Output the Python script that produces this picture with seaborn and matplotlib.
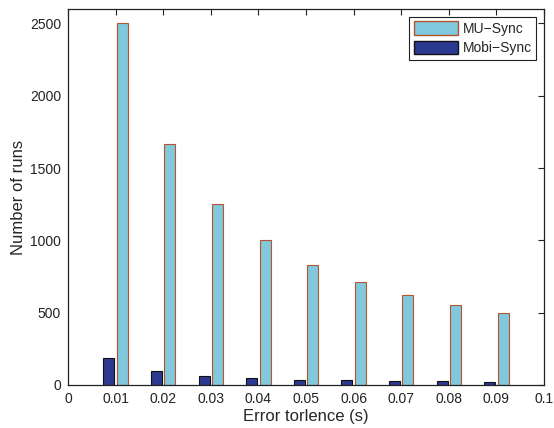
import numpy as np
import pandas as pd
import matplotlib
matplotlib.use("Agg")
import matplotlib.pyplot as plt
import seaborn as sns
from matplotlib.patches import Patch

# Error tolerance levels (s) and number of runs per method
tolerance = [0.01, 0.02, 0.03, 0.04, 0.05, 0.06, 0.07, 0.08, 0.09]
mu_sync = [2500, 1667, 1250, 1000, 833, 714, 625, 556, 500]
mobi_sync = [185, 95, 65, 48, 33, 35, 28, 28, 19]
methods = ["Mobi-Sync", "MU-Sync"]
x_ticks = [0, 0.01, 0.02, 0.03, 0.04, 0.05, 0.06, 0.07, 0.08, 0.09, 0.1]
x_tick_labels = ["0", "0.01", "0.02", "0.03", "0.04", "0.05", "0.06", "0.07", "0.08", "0.09", "0.1"]
y_ticks = [0, 500, 1000, 1500, 2000, 2500]

df = pd.DataFrame({
    "tol": tolerance * 2,
    "runs": mobi_sync + mu_sync,
    "method": ["Mobi-Sync"] * len(tolerance) + ["MU-Sync"] * len(tolerance),
})

sns.set_style("white")
plt.rcParams["font.family"] = ["Liberation Sans", "DejaVu Sans"]

fig = plt.figure(figsize=(5.54, 4.28), dpi=100)
ax = fig.add_axes([0.1227, 0.1005, 0.8593, 0.8785])

fills = {"Mobi-Sync": "#2b3990", "MU-Sync": "#80c8dc"}
edges = {"Mobi-Sync": "#111111", "MU-Sync": "#b4552e"}

sns.barplot(data=df, x="tol", y="runs", hue="method", hue_order=methods,
            palette=fills, native_scale=True, width=0.56, gap=0.18,
            saturation=1, ax=ax, legend=False)

for cont, m in zip(ax.containers, methods):
    for p in cont.patches:
        p.set_edgecolor(edges[m])
        p.set_linewidth(0.8)

ax.set_xlim(0, 0.1)
ax.set_ylim(0, 2600)
ax.set_xticks(x_ticks)
ax.set_xticklabels(x_tick_labels)
ax.set_yticks(y_ticks)
ax.tick_params(direction="in", top=True, right=True, length=4, width=0.8,
               labelsize=10, colors="#222222", pad=5)
for s in ax.spines.values():
    s.set_visible(True)
    s.set_color("#222222")
    s.set_linewidth(0.9)

ax.set_xlabel("Error torlence (s)", fontsize=12, labelpad=2)
ax.set_ylabel("Number of runs", fontsize=12, labelpad=3)

handles = [Patch(facecolor=fills["MU-Sync"], edgecolor=edges["MU-Sync"], label="MU\u2212Sync"),
           Patch(facecolor=fills["Mobi-Sync"], edgecolor=edges["Mobi-Sync"], label="Mobi\u2212Sync")]
leg = ax.legend(handles=handles, loc="upper right", fontsize=10, frameon=True,
                fancybox=False, edgecolor="#222222", framealpha=1,
                handlelength=3.2, handleheight=1.1, borderaxespad=0.55,
                handletextpad=0.3, labelspacing=0.35, borderpad=0.35)
leg.get_frame().set_linewidth(0.8)

fig.savefig("out.png", dpi=100)
